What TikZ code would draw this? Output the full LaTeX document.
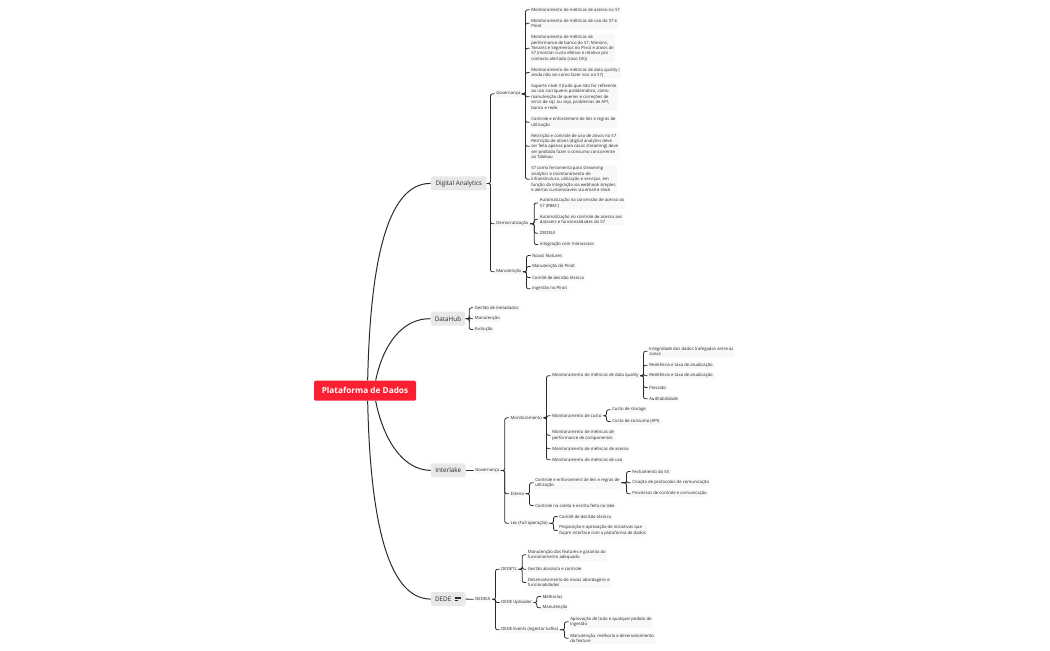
\documentclass[tikz,border=0pt]{standalone}
\usepackage{fontspec}
\setmainfont{Open Sans}
\definecolor{leafbg}{HTML}{F8F8F8}
\definecolor{topbg}{HTML}{E8E8E8}
\definecolor{rootred}{HTML}{FB1F32}
\definecolor{inkc}{HTML}{2A2A2A}
\tikzset{
  leaf/.style={anchor=west,xshift=-1.1pt,yshift=-0.4pt,fill=leafbg,rounded corners=1pt,inner xsep=1.1pt,inner ysep=1pt,align=left,text=inkc,font=\fontsize{3.2}{4.1}\selectfont},
  topic/.style={yshift=-0.3pt,fill=topbg,rounded corners=1.5pt,minimum height=10.5pt,minimum width=26pt,inner xsep=1pt,inner ysep=0pt,text=inkc,font=\fontsize{4.75}{6}\selectfont},
  rootnode/.style={fill=rootred,rounded corners=1pt,minimum width=76.5pt,minimum height=15pt,inner sep=0pt,text=white,font=\fontsize{6.2}{8}\selectfont\bfseries},
  lnk/.style={draw=inkc,line width=0.6pt,rounded corners=1.5pt},
  bigcurve/.style={draw=inkc,line width=0.75pt}
}
\newcommand{\linkup}[2]{\foreach \kid in {#2}{\draw[lnk] (#1.east) -| ([xshift=-3pt]\kid.west) -- (\kid.west);}}
\begin{document}
\begin{tikzpicture}[x=0.75pt,y=-0.75pt]
\useasboundingbox (0,0) rectangle (1050,650);
% root and topics
\node[rootnode] (root) at (365,390.7) {Plataforma de Dados};
\node[topic,minimum width=41.8pt] (da) at (458.8,183) {Digital Analytics};
\node[topic] (dh) at (448,318.3) {DataHub};
\node[topic] (il) at (448.2,470) {Interlake};
\node[topic] (dd) at (448.2,598.7) {\makebox[19.8pt][l]{DEDE}};
% Digital Analytics
\node[leaf] (gov) at (496,93.3) {Governança};
\node[leaf] (dem) at (496,223.3) {Democratização};
\node[leaf] (man) at (496,271.3) {Manutenção};
\node[leaf] (g1) at (531,9.3) {Monitoramento de métricas de acesso no S7};
\node[leaf] (g2) at (531,22.7) {Monitoramento de métricas de uso do S7 e\\Pinot};
\node[leaf] (g3) at (531,47.7) {Monitoramento de métricas de\\performance de banco do S7, Minions,\\Tenants e Segmentos no Pinot e ativos de\\S7 (mostrar custo efetivo e relativo pro\\contexto alertado (caso DK))};
\node[leaf] (g4) at (531,72) {Monitoramento de métricas de data quality (\\ainda não sei como fazer isso no S7)};
\node[leaf] (g5) at (531,96.3) {Suporte nível 3 (tudo que não for referente\\ao uso corriqueiro problemático, como\\manutenção de queries e correções de\\erros de sql, ou seja, problemas de API,\\banco e rede.};
\node[leaf] (g6) at (531,121.7) {Controle e enforcement de leis e regras de\\utilização};
\node[leaf] (g7) at (531,145.8) {Restrição e controle de uso de ativos no S7\\Restrição de ativos (digital analytics deve\\ser feita apenas para casos streaming) deve\\ser proibido fazer o consumo concorrente\\ao Tableau};
\node[leaf] (g8) at (531,178.7) {S7 como ferramenta para streaming\\analytics e monitoramento de\\infraestrutura, utilização e serviços, em\\função da integração via webhook simples\\e alertas customizaveis via email e slack};
\node[leaf] (d1) at (539.7,202.5) {Automatização na concessão de acesso ao\\S7 (RBAC)};
\node[leaf] (d2) at (539.7,218.8) {Automatização no controle de acesso aos\\datasets e funcionalidades do S7};
\node[leaf] (d3) at (539.7,232.7) {DEDEUI};
\node[leaf] (d4) at (539.7,244) {Integração com Interaccess};
\node[leaf] (m1) at (532,255) {Novas features};
\node[leaf] (m2) at (532,266) {Manutenção do Pinot};
\node[leaf] (m3) at (532,277) {Comitê de decisão técnica};
\node[leaf] (m4) at (532,288.3) {Ingestão no Pinot};
% DataHub
\node[leaf] (h1) at (474.7,307.3) {Gestão de metadados};
\node[leaf] (h2) at (474.7,318.3) {Manutenção};
\node[leaf] (h3) at (474.7,329) {Evolução};
% Interlake
\node[leaf] (igov) at (475,470) {Governança};
\node[leaf] (mon) at (510.3,417.3) {Monitoramento};
\node[leaf] (est) at (510.3,493.3) {Esteira};
\node[leaf] (lex) at (510.3,522.7) {Lex (Full operação)};
\node[leaf] (q0) at (552,375.2) {Monitoramento de métricas de data quality};
\node[leaf] (q1) at (552,415.3) {Monitoramento de custo};
\node[leaf] (q2) at (552,434.7) {Monitoramento de métricas de\\performance de componentes};
\node[leaf] (q3) at (552,448.3) {Monitoramento de métricas de acesso};
\node[leaf] (q4) at (552,459.3) {Monitoramento de métricas de uso};
\node[leaf] (r1) at (649,350.8) {Integridade dos dados trafegados entre as\\zonas};
\node[leaf] (r2) at (649,364.7) {Resiliência e taxa de atualização};
\node[leaf] (r3) at (649,375.2) {Resiliência e taxa de atualização};
\node[leaf] (r4) at (649,387) {Precisão};
\node[leaf] (r5) at (649,398.3) {Auditabilidade};
\node[leaf] (c1) at (612,409.3) {Custo de storage};
\node[leaf] (c2) at (612,421) {Custo de consumo (API)};
\node[leaf] (e1) at (535,482.3) {Controle e enforcement de leis e regras de\\utilização};
\node[leaf] (e2) at (535,505) {Controle na coleta e escrita feita no lake};
\node[leaf] (f1) at (632,471) {Fechamento do S3};
\node[leaf] (f2) at (632,482.3) {Criação de protocolos de comunicação};
\node[leaf] (f3) at (632,493.3) {Processos de controle e comunicação};
\node[leaf] (l1) at (559,516) {Comitê de decisão técnica};
\node[leaf] (l2) at (559,530) {Proposição e aprovação de iniciativas que\\façam interface com a plataforma de dados};
% DEDE
\node[leaf] (dui) at (475,598.7) {DEDEUI};
\node[leaf] (tl) at (501,568.7) {DEDETL};
\node[leaf] (up) at (501,602) {DEDE Uploader};
\node[leaf] (ev) at (501,629.3) {DEDE Events (ingestor kafka)};
\node[leaf] (t1) at (527.7,554.3) {Manutenção das features e garantia do\\funcionamento adequado};
\node[leaf] (t2) at (527.7,568.7) {Gestão absoluta e controle};
\node[leaf] (t3) at (527.7,582) {Desenvolvimento de novas abordagens e\\funcionalidades};
\node[leaf] (u1) at (542.3,596) {Melhorias};
\node[leaf] (u2) at (542.3,607.3) {Manutenção};
\node[leaf] (v1) at (570,621.3) {Aprovação de todo e qualquer pedido de\\ingestão};
\node[leaf] (v2) at (570,637.7) {Manutenção, melhoria e desenvolvimento\\da feature};
% note icon on DEDE
\draw[inkc,line width=0.2pt] (454.5,596.8) -- (460.5,596.8) (454.5,598.6) -- (460.5,598.6) (454.5,600.4) -- (458,600.4);
% big curves
\draw[bigcurve] ([xshift=2pt]root.north) .. controls (370,270) and (385,183) .. (da.west);
\draw[bigcurve] ([xshift=8pt]root.north) .. controls (383,345) and (402,318.3) .. (dh.west);
\draw[bigcurve] ([xshift=8pt]root.south) .. controls (383,438) and (402,470) .. (il.west);
\draw[bigcurve] ([xshift=2pt]root.south) .. controls (370,510) and (385,598.7) .. (dd.west);
% connectors
\linkup{da}{gov,dem,man}
\linkup{gov}{g1,g2,g3,g4,g5,g6,g7,g8}
\linkup{dem}{d1,d2,d3,d4}
\linkup{man}{m1,m2,m3,m4}
\linkup{dh}{h1,h2,h3}
\draw[lnk] (il.east) -- (igov.west);
\linkup{igov}{mon,est,lex}
\linkup{mon}{q0,q1,q2,q3,q4}
\linkup{q0}{r1,r2,r3,r4,r5}
\linkup{q1}{c1,c2}
\linkup{est}{e1,e2}
\linkup{e1}{f1,f2,f3}
\linkup{lex}{l1,l2}
\draw[lnk] (dd.east) -- (dui.west);
\linkup{dui}{tl,up,ev}
\linkup{tl}{t1,t2,t3}
\linkup{up}{u1,u2}
\linkup{ev}{v1,v2}
\end{tikzpicture}
\end{document}
